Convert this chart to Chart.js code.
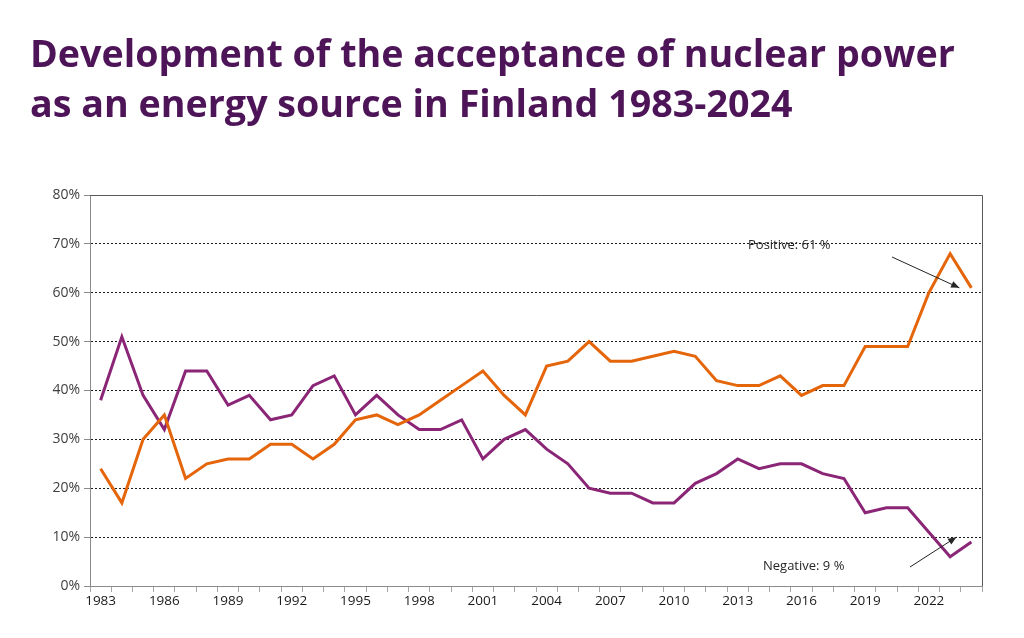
<!DOCTYPE html>
<html>
<head>
<meta charset="utf-8">
<script src="https://cdn.jsdelivr.net/npm/chart.js@4"></script>
<style>
  body { margin: 0; background: #fff; }
  #wrap { position: relative; width: 1024px; height: 638px; }
  #title {
    position: absolute; left: 30px; top: 28px; margin: 0;
    font-family: "Open Sans", sans-serif; font-weight: 700;
    color: #4e1458; font-size: 38px; line-height: 50px; white-space: nowrap;
  }
  canvas { position: absolute; left: 0; top: 0; }
</style>
</head>
<body>
<div id="wrap">
  <canvas id="chart" width="1024" height="638"></canvas>
  <h1 id="title"><span id="line1">Development of the acceptance of nuclear power</span><br>as an energy source in Finland 1983-2024</h1>
</div>
<script>
// Survey years and shares (%)
const years = [];
for (let y = 1983; y <= 2024; y++) years.push(String(y));

const positive = [24, 17, 30, 35, 22, 25, 26, 26, 29, 29, 26, 29, 34, 35, 33, 35, 38, 41, 44, 39, 35,
                  45, 46, 50, 46, 46, 47, 48, 47, 42, 41, 41, 43, 39, 41, 41, 49, 49, 49, 60, 68, 61];
const negative = [38, 51, 39, 32, 44, 44, 37, 39, 34, 35, 41, 43, 35, 39, 35, 32, 32, 34, 26, 30, 32,
                  28, 25, 20, 19, 19, 17, 17, 21, 23, 26, 24, 25, 25, 23, 22, 15, 16, 16, 11, 6, 9];

const yTicks = [0, 10, 20, 30, 40, 50, 60, 70, 80];

// fit the title's first line to the reference width
const line1 = document.getElementById('line1');
const titleEl = document.getElementById('title');
const w = line1.getBoundingClientRect().width;
titleEl.style.fontSize = (38 * 925 / w) + 'px';

const plotBorder = {
    id: 'plotBorder',
    afterDraw(chart) {
        const { ctx, chartArea: a } = chart;
        ctx.save();
        ctx.strokeStyle = '#5a5a5a';
        ctx.lineWidth = 1;
        ctx.beginPath();
        ctx.moveTo(a.left, a.top + 0.5);
        ctx.lineTo(a.right + 0.5, a.top + 0.5);
        ctx.lineTo(a.right + 0.5, a.bottom);
        ctx.stroke();
        ctx.restore();
    }
};

// text labels with arrows pointing at the latest values
const callouts = {
    id: 'callouts',
    afterDatasetsDraw(chart) {
        const { ctx, scales: { x, y } } = chart;
        const last = years.length - 1;
        const arrow = (x1, y1, x2, y2) => {
            ctx.beginPath();
            ctx.moveTo(x1, y1);
            ctx.lineTo(x2, y2);
            ctx.stroke();
            const ang = Math.atan2(y2 - y1, x2 - x1);
            ctx.beginPath();
            ctx.moveTo(x2, y2);
            ctx.lineTo(x2 - 9 * Math.cos(ang - 0.4), y2 - 9 * Math.sin(ang - 0.4));
            ctx.lineTo(x2 - 9 * Math.cos(ang + 0.4), y2 - 9 * Math.sin(ang + 0.4));
            ctx.closePath();
            ctx.fill();
        };
        ctx.save();
        ctx.strokeStyle = '#222';
        ctx.fillStyle = '#262626';
        ctx.lineWidth = 1;
        ctx.font = '13px "Open Sans", sans-serif';
        ctx.textBaseline = 'middle';
        const px = x.getPixelForValue(last);
        ctx.fillText('Positive: ' + positive[last] + ' %', 748, 245);
        arrow(892, 257, px - 12, y.getPixelForValue(positive[last]));
        ctx.fillText('Negative: ' + negative[last] + ' %', 763, 566);
        arrow(910, 567, px - 15, y.getPixelForValue(negative[last] + 1));
        ctx.restore();
    }
};

new Chart(document.getElementById('chart'), {
    type: 'line',
    data: {
        labels: years,
        datasets: [{
            label: 'Positive',
            data: positive,
            borderColor: '#e4650a',
            borderWidth: 3,
            pointRadius: 0,
            tension: 0
        }, {
            label: 'Negative',
            data: negative,
            borderColor: '#8b2677',
            borderWidth: 3,
            pointRadius: 0,
            tension: 0
        }]
    },
    options: {
        responsive: false,
        animation: false,
        layout: { padding: { top: 195, right: 42, left: 0, bottom: 0 } },
        plugins: {
            legend: { display: false },
            tooltip: { enabled: false }
        },
        scales: {
            x: {
                offset: true,
                afterFit: s => { s.height = 52; },
                grid: {
                    offset: true,
                    drawOnChartArea: false,
                    tickLength: 6,
                    tickColor: '#a6a6a6'
                },
                border: { color: '#8c8c8c' },
                ticks: {
                    autoSkip: false,
                    maxRotation: 0,
                    padding: 1,
                    color: '#1a1a1a',
                    font: { family: '"Open Sans", sans-serif', size: 13.5 },
                    callback: (v, i) => (i % 3 === 0 ? years[i] : '')
                }
            },
            y: {
                min: 0,
                max: 80,
                afterFit: s => { s.width = 90; },
                afterBuildTicks: s => { s.ticks = yTicks.map(v => ({ value: v })); },
                grid: {
                    color: ctx => (ctx.tick.value === 0 || ctx.tick.value === 80 ? 'rgba(0,0,0,0)' : '#1a1a1a'),
                    tickBorderDash: [],
                    tickLength: 6,
                    tickColor: '#8c8c8c'
                },
                border: { color: '#8c8c8c', dash: [2, 2] },
                ticks: {
                    padding: 4,
                    color: '#404040',
                    font: { family: '"Open Sans", sans-serif', size: 14 },
                    callback: v => v + '%'
                }
            }
        }
    },
    plugins: [plotBorder, callouts]
});
</script>
</body>
</html>
